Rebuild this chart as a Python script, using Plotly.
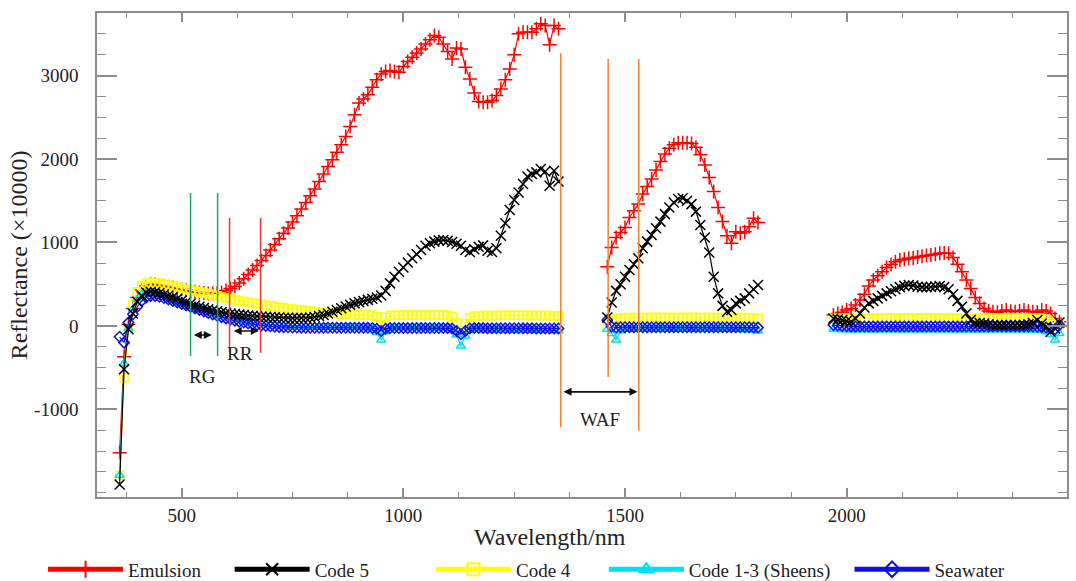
import plotly.graph_objects as go

# ---------------- data ----------------
wl1 = list(range(360, 1351, 10))
wl2 = list(range(1460, 1801, 10))
wl3 = list(range(1970, 2481, 10))

emulsion_r1 = [
    -1520, -370, 20, 210, 340, 430, 480, 500, 500, 490,
    480, 470, 460, 450, 440, 430, 420, 410, 400, 395,
    390, 388, 392, 400, 425, 450, 475, 515, 565, 615,
    670, 725, 785, 845, 910, 975, 1045, 1110, 1175, 1245,
    1320, 1400, 1480, 1560, 1640, 1730, 1820, 1910, 1990, 2080,
    2170, 2270, 2390, 2530, 2670, 2720, 2770, 2860, 2950, 3020,
    3050, 3060, 3050, 3040, 3110, 3170, 3220, 3270, 3320, 3380,
    3430, 3480, 3460, 3380, 3290, 3200, 3330, 3320, 3100, 2960,
    2790, 2690, 2680, 2680, 2700, 2760, 2840, 2950, 3080, 3250,
    3500, 3520, 3520, 3520, 3560, 3620, 3600, 3370, 3600, 3560]
emulsion_r2 = [
    710, 940, 1060, 1120, 1180, 1300, 1380, 1460, 1580, 1670,
    1760, 1870, 1970, 2060, 2130, 2170, 2195, 2195, 2195, 2185,
    2140, 2050, 1930, 1780, 1610, 1420, 1250, 1080, 990, 1130,
    1110, 1130, 1190, 1290, 1240]
emulsion_r3 = [
    130, 150, 165, 190, 210, 250, 310, 380, 480, 550,
    600, 650, 700, 735, 770, 790, 800, 810, 815, 825,
    835, 845, 850, 860, 870, 875, 870, 820, 740, 650,
    550, 450, 340, 270, 210, 180, 170, 165, 180, 190,
    175, 170, 180, 190, 175, 170, 165, 190, 180, 150,
    90, 50]

code5_r1 = [
    -1900, -520, -40, 150, 290, 360, 400, 410, 405, 395,
    380, 365, 345, 325, 305, 285, 265, 245, 230, 215,
    200, 188, 176, 166, 158, 150, 143, 137, 131, 126,
    121, 117, 113, 110, 107, 104, 101, 99, 97, 96,
    95, 95, 96, 100, 108, 118, 132, 150, 170, 192,
    212, 232, 252, 270, 285, 298, 312, 325, 340, 365,
    420, 510, 590, 650, 700, 760, 810, 860, 910, 960,
    990, 1010, 1025, 1030, 1020, 1005, 985, 960, 910, 885,
    920, 950, 965, 900, 885, 930, 1080, 1230, 1390, 1510,
    1600, 1700, 1790, 1820, 1840, 1880, 1850, 1680, 1860, 1730]
code5_r2 = [
    100, 280, 420, 500, 590, 670, 740, 810, 930, 1010,
    1090, 1170, 1250, 1340, 1420, 1480, 1520, 1530, 1500, 1460,
    1370, 1210, 1060, 880, 590, 390, 240, 170, 190, 270,
    300, 330, 390, 440, 490]
code5_r3 = [
    90, 80, 70, 60, 50, 90, 150, 220, 270, 300,
    330, 360, 390, 415, 440, 465, 480, 490, 485, 470,
    465, 465, 467, 472, 478, 465, 440, 380, 300, 230,
    150, 70, 35, 36, 30, 20, 12, 12, 12, 12,
    12, 12, 12, 15, 20, 36, 70, 30, -10, -70,
    -30, 40]

code4_r1 = [
    -1790, -620, -20, 260, 410, 480, 510, 520, 518, 510,
    500, 490, 478, 466, 455, 443, 432, 420, 408, 396,
    385, 372, 360, 348, 336, 325, 314, 303, 293, 283,
    274, 265, 256, 248, 240, 232, 224, 217, 210, 203,
    196, 190, 184, 178, 172, 166, 161, 156, 151, 147,
    143, 140, 137, 134, 132, 130, 129, 128, 110, 10,
    105, 125, 128, 128, 130, 130, 130, 130, 130, 130,
    130, 130, 130, 130, 128, 110, 40, -80, 30, 100,
    118, 122, 125, 125, 126, 126, 127, 127, 127, 127,
    127, 127, 126, 126, 125, 125, 124, 124, 122, 120]
code4_r2 = [
    60, 80, 90, 95, 98, 100, 100, 100, 100, 100,
    100, 100, 100, 100, 100, 100, 100, 100, 100, 100,
    100, 100, 100, 100, 100, 100, 100, 100, 100, 100,
    100, 100, 98, 95, 90]
code4_r3 = [
    90, 92, 94, 95, 96, 96, 96, 96, 96, 96,
    96, 96, 96, 96, 96, 96, 96, 96, 96, 96,
    96, 96, 96, 96, 96, 96, 96, 96, 96, 96,
    95, 95, 95, 95, 95, 95, 95, 95, 95, 95,
    94, 94, 94, 94, 93, 93, 92, 90, 80, 40,
    -50, 20]

code13_r1 = [
    -1790, -450, -30, 200, 320, 380, 400, 400, 390, 375,
    358, 340, 322, 304, 286, 268, 250, 232, 214, 196,
    178, 160, 143, 127, 112, 98, 85, 73, 62, 52,
    43, 35, 28, 22, 17, 13, 9, 6, 3, 0,
    -2, -4, -6, -8, -10, -12, -14, -15, -16, -17,
    -18, -19, -20, -20, -20, -20, -22, -30, -80, -170,
    -70, -30, -22, -20, -20, -20, -22, -22, -24, -24,
    -25, -25, -26, -26, -28, -40, -110, -240, -120, -50,
    -36, -38, -40, -40, -42, -42, -44, -44, -45, -45,
    -46, -46, -48, -48, -50, -50, -52, -52, -55, -58]
code13_r2 = [
    -40, -90, -170, -60, -40, -38, -36, -36, -36, -36,
    -36, -36, -36, -36, -36, -36, -36, -36, -36, -36,
    -36, -36, -36, -36, -36, -38, -38, -38, -40, -40,
    -40, -42, -45, -50, -60]
code13_r3 = [
    -40, -42, -44, -45, -45, -45, -45, -45, -45, -45,
    -45, -45, -45, -45, -45, -45, -45, -45, -45, -45,
    -45, -45, -45, -45, -45, -45, -45, -45, -45, -45,
    -45, -45, -45, -45, -45, -45, -45, -45, -45, -45,
    -45, -45, -46, -46, -47, -48, -50, -55, -70, -100,
    -170, -90]

seawater_r1 = [
    -130, -200, 40, 140, 230, 300, 340, 360, 360, 350,
    335, 318, 300, 282, 264, 246, 228, 210, 192, 174,
    156, 138, 121, 105, 90, 76, 63, 51, 40, 30,
    21, 13, 6, 0, -5, -9, -12, -15, -17, -19,
    -20, -21, -22, -22, -22, -22, -22, -22, -22, -22,
    -22, -22, -22, -22, -22, -23, -23, -25, -35, -60,
    -35, -25, -25, -25, -25, -25, -25, -25, -25, -25,
    -25, -25, -25, -25, -26, -30, -60, -100, -60, -30,
    -26, -26, -26, -27, -27, -27, -28, -28, -28, -28,
    -28, -29, -29, -29, -30, -30, -30, -30, -30, -30]
seawater_r2 = [
    70, -10, -20, -15, -15, -15, -15, -15, -15, -15,
    -15, -15, -15, -15, -15, -15, -15, -15, -15, -15,
    -15, -15, -15, -15, -15, -15, -15, -15, -15, -15,
    -15, -15, -15, -18, -20]
seawater_r3 = [
    10, 5, 0, -5, -8, -8, -8, -8, -8, -8,
    -8, -8, -8, -8, -8, -8, -8, -8, -8, -8,
    -8, -8, -8, -8, -8, -8, -8, -8, -8, -8,
    -8, -8, -8, -8, -8, -8, -8, -8, -8, -8,
    -8, -8, -8, -8, -8, -8, -10, -12, -20, -30,
    -40, 10]

x_ticks = [500, 1000, 1500, 2000]
y_ticks = [-1000, 0, 1000, 2000, 3000]
y_ticktext = ["-1000", "0", "1000", "2000", "3000"]

# band markers (vertical guide lines): x, y_bottom, y_top
rg_lines = [(520, -360, 1593), (581, -360, 1593)]
rr_lines = [(608, -323, 1293), (678, -323, 1293)]
waf_lines = [(1355, -1210, 3269), (1462, -611, 3198), (1531, -1257, 3198)]

# ---------------- figure ----------------
FONT = "Liberation Serif"
NB = "\u00a0"
gap1, gap2 = 1400, 1885


def join(r1, r2, r3):
    return r1 + [None] + r2 + [None] + r3


xs = wl1 + [gap1] + wl2 + [gap2] + wl3

series = [
    # name, legend padding, values, color, symbol, size, legendrank
    ("Emulsion", 5, join(emulsion_r1, emulsion_r2, emulsion_r3), "#ff0000", "cross-thin", 10, 1),
    ("Code 4", 6, join(code4_r1, code4_r2, code4_r3), "#ffff00", "square-open", 8, 3),
    ("Code 1-3 (Sheens)", 3, join(code13_r1, code13_r2, code13_r3), "#00e0f0", "triangle-up-open", 8, 4),
    ("Seawater", 0, join(seawater_r1, seawater_r2, seawater_r3), "#1010e0", "diamond-open", 8, 5),
    ("Code 5", 12, join(code5_r1, code5_r2, code5_r3), "#000000", "x-thin", 10, 2),
]

fig = go.Figure()
for name, pad, vals, col, sym, size, rank in series:
    fig.add_trace(go.Scatter(
        x=xs, y=vals, name=name + NB * pad, mode="lines+markers",
        connectgaps=False, legendrank=rank,
        line=dict(color=col, width=1.2),
        marker=dict(symbol=sym, size=size, color=col,
                    line=dict(color=col, width=1.5)),
    ))

shapes = []
for x, y0, y1 in rg_lines:
    shapes.append(dict(type="line", xref="x", yref="y", x0=x, x1=x, y0=y0, y1=y1,
                       line=dict(color="#1aa86c", width=1.5)))
for x, y0, y1 in rr_lines:
    shapes.append(dict(type="line", xref="x", yref="y", x0=x, x1=x, y0=y0, y1=y1,
                       line=dict(color="#f03434", width=1.5)))
for x, y0, y1 in waf_lines:
    shapes.append(dict(type="line", xref="x", yref="y", x0=x, x1=x, y0=y0, y1=y1,
                       line=dict(color="#f08232", width=1.5)))

arrows = [(524, 568, -108), (614, 674, -60), (1358, 1528, -790)]
labels = [("RG", 547, -611), ("RR", 631, -335), ("WAF", 1444, -1120)]

annotations = []
for xa, xb, yv in arrows:
    annotations.append(dict(x=xb, y=yv, ax=xa, ay=yv, xref="x", yref="y",
                            axref="x", ayref="y", text="", showarrow=True,
                            arrowhead=2, startarrowhead=2, arrowside="end+start",
                            arrowsize=1.0, startarrowsize=1.0, arrowwidth=1.6,
                            arrowcolor="#111111"))
for t, xv, yv in labels:
    annotations.append(dict(x=xv, y=yv, xref="x", yref="y", text=t, showarrow=False,
                            font=dict(family=FONT, size=19, color="#222222")))
# x-axis title (sits left of the plot centre in the reference)
annotations.append(dict(x=0.467, y=-0.082, xref="paper", yref="paper",
                        xanchor="center", yanchor="middle", showarrow=False,
                        text="Wavelength/nm",
                        font=dict(family=FONT, size=24, color="#222222")))

axis_common = dict(showline=True, linecolor="#8c8c8c", linewidth=1.5, mirror="ticks",
                   ticks="inside", tickcolor="#8c8c8c", tickwidth=1.5,
                   showgrid=False, zeroline=False,
                   tickfont=dict(family=FONT, size=19, color="#222222"))

fig.update_layout(
    width=1076, height=581,
    margin=dict(l=97, r=9, t=13, b=84, autoexpand=False),
    paper_bgcolor="white", plot_bgcolor="white",
    font=dict(family=FONT, color="#222222"),
    shapes=shapes, annotations=annotations,
    xaxis=dict(range=[309, 2497], tickvals=x_ticks, ticklen=9,
               minor=dict(dtick=125, tick0=0, ticks="inside", ticklen=5,
                          tickcolor="#8c8c8c", tickwidth=1.2),
               ticklabelstandoff=0,
               **axis_common),
    yaxis=dict(range=[-2050, 3750], tickvals=y_ticks, ticktext=y_ticktext, ticklen=20,
               minor=dict(dtick=250, tick0=0, ticks="inside", ticklen=9,
                          tickcolor="#8c8c8c", tickwidth=1.2),
               ticklabelstandoff=13,
               title=dict(text="Reflectance (×10000)", standoff=0,
                          font=dict(family=FONT, size=24, color="#222222")),
               **axis_common),
    legend=dict(orientation="h", xref="container", x=0.04, xanchor="left",
                yref="container", y=0.02, yanchor="middle",
                itemwidth=75, entrywidth=0, itemsizing="constant",
                font=dict(family=FONT, size=19, color="#222222"),
                bgcolor="rgba(0,0,0,0)", traceorder="normal"),
    showlegend=True,
)

fig.write_html("out.html")
